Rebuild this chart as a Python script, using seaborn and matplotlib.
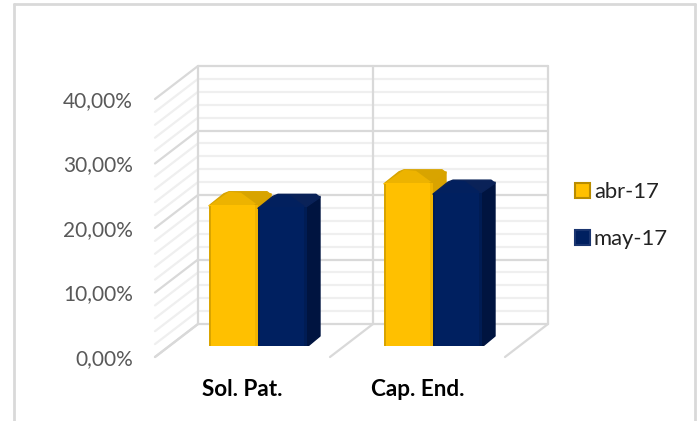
import matplotlib
matplotlib.use('Agg')
import matplotlib.pyplot as plt
from matplotlib.patches import Patch, Polygon, Rectangle
import pandas as pd
import seaborn as sns

# Datos ======================================================================
categorias = ['Sol. Pat.', 'Cap. End.']
series = ['abr-17', 'may-17']
abr_17 = [21.9, 25.3]
may_17 = [21.5, 23.7]
y_ticks = [0, 10, 20, 30, 40]
y_labels = ['0,00%', '10,00%', '20,00%', '30,00%', '40,00%']
y_minor = [v for v in range(0, 41, 2)]

AMARILLO = '#FFC000'
AZUL = '#002060'
GRID_MAJOR = '#D9D9D9'
GRID_MINOR = '#EFEFEF'

W, H = 697, 421
PX_Y = 6.45   # pixeles por punto porcentual
PX_X = 175.0  # pixeles por categoria


def axes_px(fig, left, top, right, bottom):
    """Crea un axes a partir de coordenadas en pixeles de la imagen"""
    ax = fig.add_axes([left / W, 1 - bottom / H, (right - left) / W, (bottom - top) / H])
    ax.patch.set_alpha(0)
    return ax


sns.set_theme(style='white')
plt.rcParams['font.family'] = ['Lato', 'DejaVu Sans']

fig = plt.figure(figsize=(W / 100, H / 100), dpi=100, facecolor='white')

# Marco exterior (sin borde inferior)
for xs, ys in [([14.5, 14.5], [421, 4]), ([14.5, 694.5], [4, 4]), ([694.5, 694.5], [4, 421])]:
    fig.add_artist(plt.Line2D([x / W for x in xs], [1 - y / H for y in ys], color='#D9D9D9', lw=2))

# Pared del fondo ============================================================
ax_wall = axes_px(fig, 198, 66, 548, 324)
ax_wall.set_xlim(0, 2)
ax_wall.set_ylim(0, 40)
ax_wall.axis('off')
dx_p, dy_p = -43 / PX_X, -33 / PX_Y
for v in y_minor:
    major = v in y_ticks
    c, lw = (GRID_MAJOR, 1.6) if major else (GRID_MINOR, 1.6)
    ax_wall.plot([0, 2], [v, v], color=c, lw=lw, clip_on=False, zorder=2 if major else 1)
    ax_wall.plot([0, dx_p], [v, v + dy_p], color=c, lw=lw, clip_on=False, zorder=2 if major else 1)
for x in [0, 1, 2]:
    ax_wall.plot([x, x], [0, 40], color=GRID_MAJOR, lw=1.6, clip_on=False, zorder=2)
    ax_wall.plot([x, x + dx_p], [0, dy_p], color=GRID_MAJOR, lw=1.6, clip_on=False, zorder=2)

# Plano frontal: solo etiquetas de los ejes ==================================
ax_front = axes_px(fig, 155, 99, 505, 357)
ax_front.set_xlim(-0.5, 1.5)
ax_front.set_ylim(0, 40)
ax_front.set_yticks(y_ticks, y_labels)
ax_front.set_xticks(range(len(categorias)), categorias)
ax_front.tick_params(axis='y', length=0, pad=16, labelsize=15, labelcolor='#595959')
ax_front.tick_params(axis='x', length=0, pad=15.5, labelsize=16.2)
for lab in ax_front.get_xticklabels():
    lab.set_fontweight('bold')
    lab.set_color('black')
sns.despine(ax=ax_front, left=True, bottom=True)

# Barras =====================================================================
df = pd.DataFrame({
    'categoria': categorias * 2,
    'serie': [series[0]] * 2 + [series[1]] * 2,
    'valor': abr_17 + may_17,
})
ax_bars = axes_px(fig, 170.5, 88, 520.5, 346)
sns.barplot(data=df, x='categoria', y='valor', hue='serie', hue_order=series,
            palette=[AMARILLO, AZUL], width=0.56, gap=0, saturation=1,
            legend=False, ax=ax_bars)
ax_bars.set_xlim(-0.5, 1.5)
ax_bars.set_ylim(0, 40)
ax_bars.axis('off')

ux, uy = 1 / PX_X, 1 / PX_Y
tonos = {
    0: dict(side='#D9A300', top='#D8A400', bevel='#EDB300', edge='#F0B400', left='#D9A400', z=3),
    1: dict(side='#001440', top='#0A2258', bevel='#02205E', edge='#001C54', left='#001C54', z=6),
}
for i, bar in enumerate(b for b in ax_bars.patches if b.get_height() > 0):
    t = tonos[0] if i < 2 else tonos[1]
    z = t['z']
    x0, x1, h = bar.get_x(), bar.get_x() + bar.get_width(), bar.get_height()
    bar.set_zorder(z + 1)
    bar.set_linewidth(0)
    xb = x1 + 13 * ux  # arista trasera
    # cara lateral
    ax_bars.add_patch(Polygon([(x1 - 4 * ux, 0), (xb - 12 * ux, 0), (xb, 10 * uy), (xb, h + 11 * uy),
                               (x1 - 4 * ux, h)], fc=t['side'], ec=t['side'], lw=1, joinstyle='round', zorder=z))
    # cara superior
    ax_bars.add_patch(Polygon([(x0, h - 1 * uy), (x0 + 15 * ux, h + 11 * uy), (x0 + 20 * ux, h + 13 * uy),
                               (xb - 4 * ux, h + 13 * uy), (xb, h + 10 * uy), (x1 - 3 * ux, h - 1 * uy)],
                              fc=t['top'], ec=t['top'], lw=1, joinstyle='round', zorder=z))
    ax_bars.add_patch(Polygon([(x0, h - 1 * uy), (x0 + 20 * ux, h + 13 * uy), (x0 + 32 * ux, h + 12 * uy),
                               (x1 - 2 * ux, h + 1 * uy), (x1 - 6 * ux, h - 1 * uy)],
                              fc=t['bevel'], ec='none', zorder=z + 0.5))
    # aristas biseladas de la cara frontal
    ax_bars.add_patch(Rectangle((x0, 0), 2 * ux, h - 1 * uy, fc=t['left'], ec='none', zorder=z + 2))
    ax_bars.add_patch(Rectangle((x1 - 3 * ux, 0), 3 * ux, h, fc=t['edge'], ec='none', zorder=z + 2))

# Leyenda ====================================================================
handles = [Patch(fc=AMARILLO, ec='#B98C00', lw=1.5, label=series[0]),
           Patch(fc=AZUL, ec='#1A3570', lw=1.5, label=series[1])]
fig.legend(handles=handles, loc='upper left', bbox_to_anchor=(575 / W, 1 - 182 / H),
           bbox_transform=fig.transFigure, frameon=False, fontsize=15.8, labelcolor='#222222',
           handlelength=0.68, handleheight=0.68, handletextpad=0.18, labelspacing=1.22,
           borderpad=0, borderaxespad=0)

fig.savefig('out.png', dpi=100)
